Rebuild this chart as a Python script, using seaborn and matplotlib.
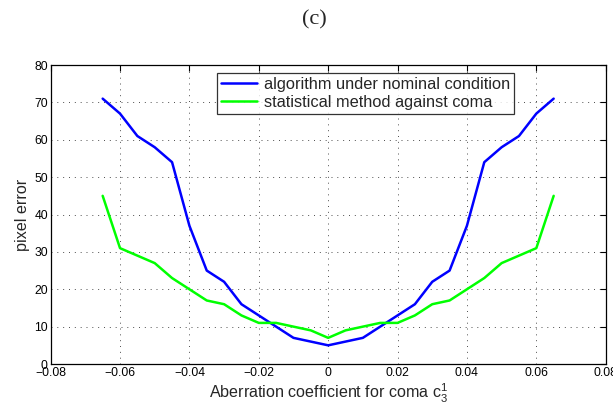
import matplotlib
matplotlib.use('Agg')
import matplotlib.pyplot as plt
import seaborn as sns
import pandas as pd

# coma coefficient values (x axis)
coma = [-0.065, -0.06, -0.055, -0.05, -0.045, -0.04, -0.035, -0.03, -0.025,
        -0.02, -0.015, -0.01, -0.005, 0.0, 0.005, 0.01, 0.015, 0.02, 0.025,
        0.03, 0.035, 0.04, 0.045, 0.05, 0.055, 0.06, 0.065]
nominal_err = [71, 67, 61, 58, 54, 37, 25, 22, 16, 13, 10, 7, 6, 5,
               6, 7, 10, 13, 16, 22, 25, 37, 54, 58, 61, 67, 71]
statistical_err = [45, 31, 29, 27, 23, 20, 17, 16, 13, 11, 11, 10, 9, 7,
                   9, 10, 11, 11, 13, 16, 17, 20, 23, 27, 29, 31, 45]
series_names = ['algorithm under nominal condition', 'statistical method against coma']
x_ticks = [-0.08, -0.06, -0.04, -0.02, 0, 0.02, 0.04, 0.06, 0.08]
x_ticklabels = ['\u22120.08', '\u22120.06', '\u22120.04', '\u22120.02', '0',
                '0.02', '0.04', '0.06', '0.08']
y_ticks = [0, 10, 20, 30, 40, 50, 60, 70, 80]

sns.set_style('white')
plt.rcParams['font.family'] = ['Liberation Sans', 'DejaVu Sans']
plt.rcParams['mathtext.fontset'] = 'custom'
plt.rcParams['mathtext.rm'] = 'Liberation Sans'
plt.rcParams['mathtext.it'] = 'Liberation Sans'

df = pd.DataFrame({
    'coma': coma * 2,
    'err': nominal_err + statistical_err,
    'series': [series_names[0]] * len(coma) + [series_names[1]] * len(coma),
})

fig = plt.figure(figsize=(6.13, 4.13), dpi=100)
ax = fig.add_axes([0.0826, 0.1186, 0.9055, 0.724])

sns.lineplot(data=df, x='coma', y='err', hue='series',
             palette=['#0000ff', '#00ff00'], linewidth=1.8, ax=ax)

ax.set_xlim(-0.08, 0.08)
ax.set_ylim(0, 80)
ax.set_xticks(x_ticks)
ax.set_xticklabels(x_ticklabels)
ax.set_yticks(y_ticks)
ax.tick_params(direction='in', top=True, right=True, labelsize=8.7, length=4,
               width=0.8, colors='black', pad=2)
ax.grid(True, linestyle=(0, (1, 5)), color='0.3', linewidth=0.7)
for sp in ax.spines.values():
    sp.set_color('black')
    sp.set_linewidth(0.9)

ax.set_xlabel(r'Aberration coefficient for coma $\mathrm{c}_3^1$', fontsize=11.6, labelpad=2)
ax.set_ylabel('pixel error', fontsize=11.6, labelpad=3)

leg = ax.legend(loc='upper left', bbox_to_anchor=(0.30, 0.973), borderaxespad=0,
                fontsize=11.8, frameon=True, fancybox=False, handlelength=2.2,
                handletextpad=0.4, borderpad=0.25, labelspacing=0.15)
leg.get_frame().set_edgecolor('black')
leg.get_frame().set_linewidth(0.9)
leg.set_title(None)

fig.text(0.513, 0.952, '(c)', ha='center', va='center', fontsize=16,
         family='Liberation Serif')

fig.savefig('out.png', dpi=100)
